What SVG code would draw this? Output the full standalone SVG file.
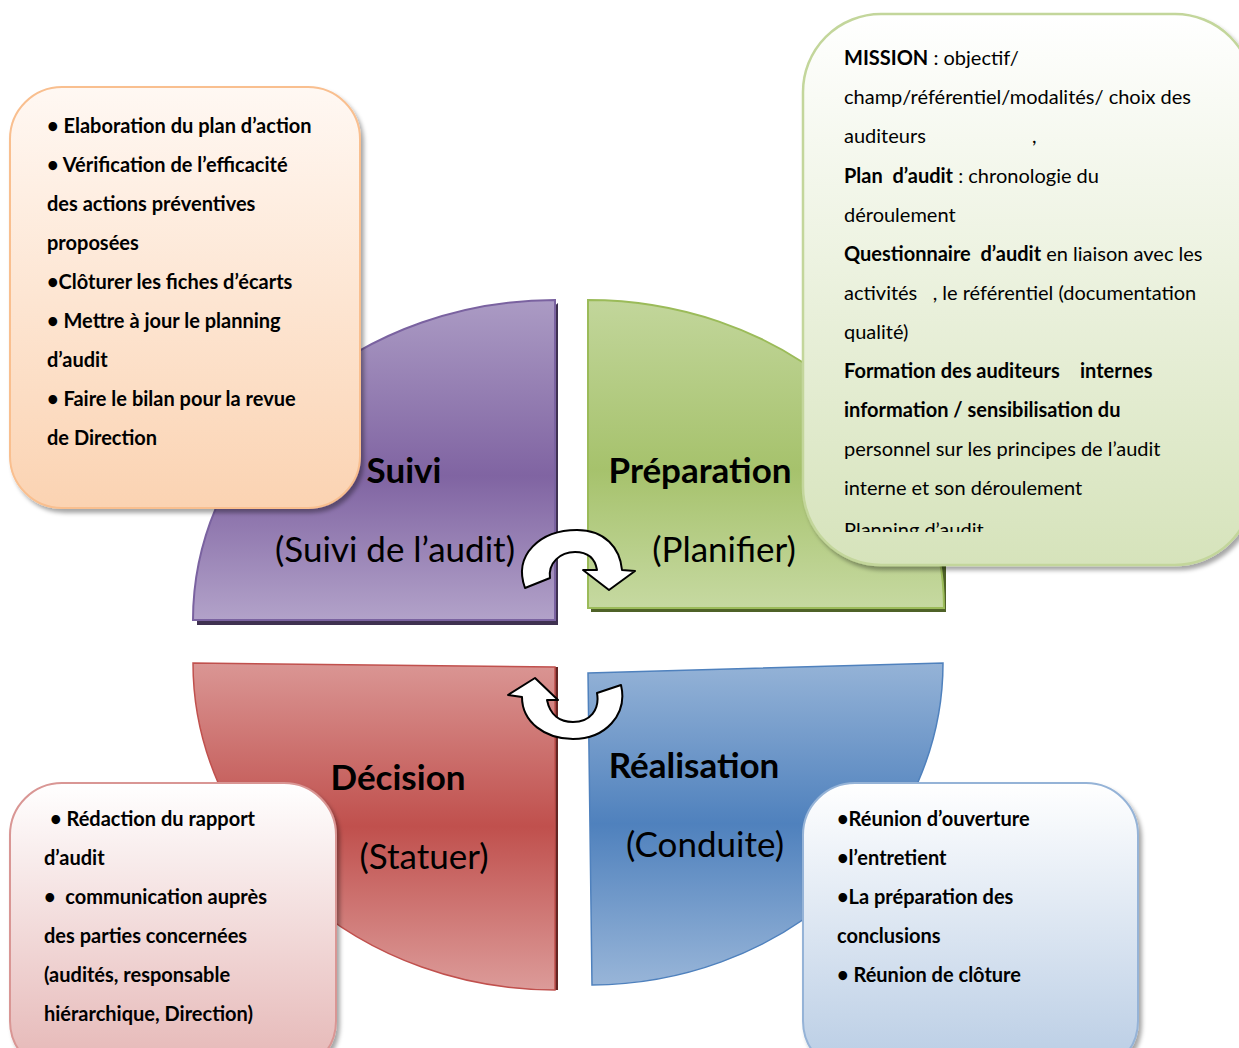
<svg xmlns="http://www.w3.org/2000/svg" width="1239" height="1048" viewBox="0 0 1239 1048">
  <defs>
    <linearGradient id="gPurple" x1="0" y1="0" x2="0" y2="1">
      <stop offset="0" stop-color="#ab9bc4"/>
      <stop offset="0.55" stop-color="#8064a2"/>
      <stop offset="1" stop-color="#b2a2c9"/>
    </linearGradient>
    <linearGradient id="gGreen" x1="0" y1="0" x2="0" y2="1">
      <stop offset="0" stop-color="#c2d69b"/>
      <stop offset="0.55" stop-color="#a6c26c"/>
      <stop offset="1" stop-color="#c6d9a1"/>
    </linearGradient>
    <linearGradient id="gRed" x1="0" y1="0" x2="0" y2="1">
      <stop offset="0" stop-color="#da9694"/>
      <stop offset="0.5" stop-color="#c0504d"/>
      <stop offset="1" stop-color="#dc9b99"/>
    </linearGradient>
    <linearGradient id="gBlue" x1="0" y1="0" x2="0" y2="1">
      <stop offset="0" stop-color="#95b3d7"/>
      <stop offset="0.5" stop-color="#4f81bd"/>
      <stop offset="1" stop-color="#98b5d8"/>
    </linearGradient>
    <linearGradient id="gBoxOrange" x1="0" y1="0" x2="0" y2="1">
      <stop offset="0" stop-color="#fff8f3"/>
      <stop offset="1" stop-color="#fbd3b2"/>
    </linearGradient>
    <linearGradient id="gBoxGreen" x1="0" y1="0" x2="0" y2="1">
      <stop offset="0" stop-color="#ffffff"/>
      <stop offset="1" stop-color="#d6e3bb"/>
    </linearGradient>
    <linearGradient id="gBoxRed" x1="0" y1="0" x2="0" y2="1">
      <stop offset="0" stop-color="#ffffff"/>
      <stop offset="1" stop-color="#e5b6b5"/>
    </linearGradient>
    <linearGradient id="gBoxBlue" x1="0" y1="0" x2="0" y2="1">
      <stop offset="0" stop-color="#ffffff"/>
      <stop offset="1" stop-color="#b8cce4"/>
    </linearGradient>
    <filter id="shadow" x="-10%" y="-10%" width="130%" height="130%">
      <feDropShadow dx="3" dy="4" stdDeviation="2" flood-color="#000" flood-opacity="0.35"/>
    </filter>
    <clipPath id="clipPrep">
      <rect x="803" y="14" width="436" height="518"/>
    </clipPath>
  </defs>
  <style>
    .lbl { font-family: Lato, "Open Sans", "Liberation Sans", sans-serif; fill: #000; }
    .title { font-size: 35px; font-weight: bold; text-anchor: middle; }
    .sub { font-size: 35px; text-anchor: middle; }
    .box { font-family: Lato, "Open Sans", "Liberation Sans", sans-serif; font-size: 20px; fill: #000; white-space: pre; }
    .b { font-weight: bold; }
    .arrow { fill: #fff; stroke: #000; stroke-width: 2; stroke-linejoin: round; }
  </style>

  <!-- Suivi quadrant (top-left) -->
  <g id="suivi">
    <path d="M558,303 L558,625 L197,625 L197,600 Z" fill="#3f3151"/>
    <path d="M555,300 L555,620 L193,620 A362,320 0 0 1 555,300 Z" fill="url(#gPurple)" stroke="#7a62a0" stroke-width="2"/>
    <text class="lbl title" x="404" y="483">Suivi</text>
    <text class="lbl sub" x="395" y="562">(Suivi de l’audit)</text>
  </g>

  <!-- Préparation quadrant (top-right) -->
  <g id="preparation">
    <path d="M591,400 L946,400 L946,612 L591,612 Z" fill="#4f6228"/>
    <path d="M588,300 A356,308 0 0 1 944,608 L588,608 Z" fill="url(#gGreen)" stroke="#9bbb59" stroke-width="2"/>
    <text class="lbl title" x="700" y="483">Préparation</text>
    <text class="lbl sub" x="724" y="562">(Planifier)</text>
  </g>

  <!-- Décision quadrant (bottom-left) -->
  <g id="decision">
    <path d="M558,667 L558,990 L540,990 L540,667 Z" fill="#632523"/>
    <path d="M193,663 L555,667 L555,990 A362,327 0 0 1 193,663 Z" fill="url(#gRed)" stroke="#c0504d" stroke-width="1.5"/>
    <text class="lbl title" x="398" y="790">Décision</text>
    <text class="lbl sub" x="424" y="869">(Statuer)</text>
  </g>

  <!-- Réalisation quadrant (bottom-right) -->
  <g id="realisation">
    <path d="M588,673 L943,663 A353,322 0 0 1 592,985 Z" fill="url(#gBlue)" stroke="#4f81bd" stroke-width="1.5"/>
    <text class="lbl title" x="694" y="778">Réalisation</text>
    <text class="lbl sub" x="705" y="857">(Conduite)</text>
  </g>

  <!-- Suivi details -->
  <g id="box-suivi">
    <rect x="10" y="87" width="350" height="421" rx="52" fill="url(#gBoxOrange)" stroke="#f9bf8f" stroke-width="2" filter="url(#shadow)"/>
    <text class="box b" x="47" y="133">• Elaboration du plan d’action</text>
    <text class="box b" x="47" y="172">• Vérification de l’efficacité</text>
    <text class="box b" x="47" y="211">des actions préventives</text>
    <text class="box b" x="47" y="250">proposées</text>
    <text class="box b" x="47" y="289">•Clôturer les fiches d’écarts</text>
    <text class="box b" x="47" y="328">• Mettre à jour le planning</text>
    <text class="box b" x="47" y="367">d’audit</text>
    <text class="box b" x="47" y="406">• Faire le bilan pour la revue</text>
    <text class="box b" x="47" y="445">de Direction</text>
  </g>

  <!-- Préparation details -->
  <g id="box-preparation">
    <rect x="803" y="14" width="450" height="551" rx="78" fill="url(#gBoxGreen)" stroke="#c3d69b" stroke-width="2.5" filter="url(#shadow)"/>
    <g clip-path="url(#clipPrep)">
      <text class="box" x="844" y="65"><tspan class="b">MISSION</tspan> : objectif/</text>
      <text class="box" x="844" y="104">champ/référentiel/modalités/ choix des</text>
      <text class="box" x="844" y="143">auditeurs</text>
      <text class="box" x="1032" y="143">,</text>
      <text class="box" x="844" y="183" xml:space="preserve"><tspan class="b">Plan  d’audit</tspan> : chronologie du</text>
      <text class="box" x="844" y="222">déroulement</text>
      <text class="box" x="844" y="261" xml:space="preserve"><tspan class="b">Questionnaire  d’audit</tspan> en liaison avec les</text>
      <text class="box" x="844" y="300" xml:space="preserve">activités   , le référentiel (documentation</text>
      <text class="box" x="844" y="339">qualité)</text>
      <text class="box b" x="844" y="378">Formation des auditeurs</text>
      <text class="box b" x="1080" y="378">internes</text>
      <text class="box b" x="844" y="417">information / sensibilisation du</text>
      <text class="box" x="844" y="456">personnel sur les principes de l’audit</text>
      <text class="box" x="844" y="495">interne et son déroulement</text>
      <text class="box" x="844" y="537">Planning d’audit</text>
    </g>
  </g>

  <!-- Décision details -->
  <g id="box-decision">
    <rect x="10" y="783" width="326" height="290" rx="52" fill="url(#gBoxRed)" stroke="#d99694" stroke-width="2" filter="url(#shadow)"/>
    <text class="box b" x="50" y="826">• Rédaction du rapport</text>
    <text class="box b" x="44" y="865">d’audit</text>
    <text class="box b" x="44" y="904" xml:space="preserve">•  communication auprès</text>
    <text class="box b" x="44" y="943">des parties concernées</text>
    <text class="box b" x="44" y="982">(audités, responsable</text>
    <text class="box b" x="44" y="1021">hiérarchique, Direction)</text>
  </g>

  <!-- Réalisation details -->
  <g id="box-realisation">
    <rect x="803" y="783" width="335" height="290" rx="52" fill="url(#gBoxBlue)" stroke="#95b3d7" stroke-width="2" filter="url(#shadow)"/>
    <text class="box b" x="837" y="826">•Réunion d’ouverture</text>
    <text class="box b" x="837" y="865">•l’entretient</text>
    <text class="box b" x="837" y="904">•La préparation des</text>
    <text class="box b" x="837" y="943">conclusions</text>
    <text class="box b" x="837" y="982">• Réunion de clôture</text>
  </g>

  <!-- Cycle arrows -->
  <g id="connectors">
    <path class="arrow" d="M525,588 C513,555 540,530 577,530 C605,530 620,548 622,570 L635,571 L609,590 L583,570 L597,570 C595,558 587,552 575,552 C560,552 548,563 550,578 Z"/>
    <path class="arrow" d="M508,695 L535,678 L558,700 L547,700 C550,715 560,722 573,722 C590,722 600,710 597,693 L621,685 C628,715 605,739 573,739 C545,739 522,722 522,697 Z"/>
  </g>
</svg>
